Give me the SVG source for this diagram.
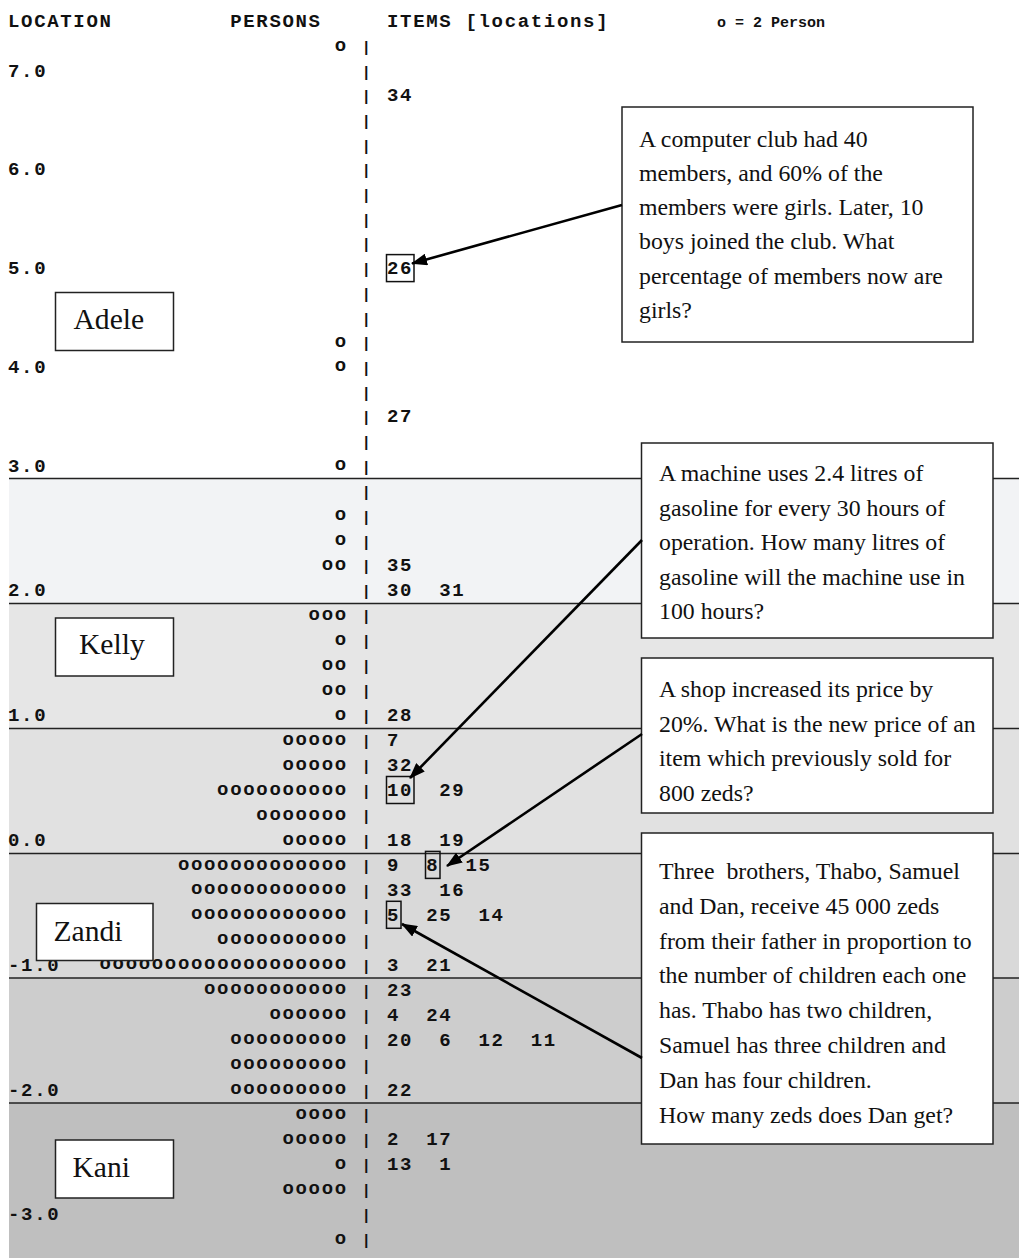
<svg xmlns="http://www.w3.org/2000/svg" width="1019" height="1258" viewBox="0 0 1019 1258">
<style>
.m{font-family:"Liberation Mono","Courier New",monospace;font-weight:bold;font-size:19px;letter-spacing:1.67px;fill:#111}
.hs{font-family:"Liberation Mono","Courier New",monospace;font-weight:bold;font-size:15px;fill:#111}
.o{transform:translate(0px,-1.3px)}
.bar{font-family:"Liberation Mono","Courier New",monospace;font-weight:bold;font-size:15px;fill:#111;text-anchor:middle}
.lbl{font-family:"Liberation Serif","Times New Roman",serif;font-size:29.6px;fill:#111}
.q{font-family:"Liberation Serif","Times New Roman",serif;font-size:23.8px;fill:#111}
.box{fill:#fff;stroke:#222;stroke-width:1.5}
.nb{fill:none;stroke:#111;stroke-width:1.5}
.bl{stroke:#222;stroke-width:1.3}
.arr{stroke:#000;stroke-width:2.6;fill:none;marker-end:url(#ah)}
</style>
<defs>
<marker id="ah" markerUnits="userSpaceOnUse" markerWidth="16" markerHeight="12" refX="15" refY="6" orient="auto">
<path d="M0,0 L16,6 L0,12 z" fill="#000"/>
</marker>
</defs>
<rect x="0" y="0" width="1019" height="1258" fill="#fff"/>
<g id="bands">
<rect x="9" y="478.5" width="1010" height="125" fill="#f2f3f5"/>
<rect x="9" y="603.5" width="1010" height="125" fill="#e6e6e6"/>
<rect x="9" y="728.5" width="1010" height="125" fill="#e1e1e1"/>
<rect x="9" y="853.5" width="1010" height="124.5" fill="#d9d9d9"/>
<rect x="9" y="978" width="1010" height="125" fill="#cdcdcd"/>
<rect x="9" y="1103" width="1010" height="155" fill="#bfbfbf"/>
<line class="bl" x1="9" y1="478.5" x2="1019" y2="478.5"/>
<line class="bl" x1="9" y1="603.5" x2="1019" y2="603.5"/>
<line class="bl" x1="9" y1="728.5" x2="1019" y2="728.5"/>
<line class="bl" x1="9" y1="853.5" x2="1019" y2="853.5"/>
<line class="bl" x1="9" y1="978" x2="1019" y2="978"/>
<line class="bl" x1="9" y1="1103" x2="1019" y2="1103"/>
</g>
<g id="header">
<text class="m" x="8" y="27">LOCATION</text>
<text class="m" x="230.2" y="27">PERSONS</text>
<text class="m" x="387" y="27">ITEMS [locations]</text>
<text class="hs" x="717" y="27">o = 2 Person</text>
</g>
<g id="locations">
<text class="m" x="8" y="76.7">7.0</text>
<text class="m" x="8" y="175.4">6.0</text>
<text class="m" x="8" y="274.1">5.0</text>
<text class="m" x="8" y="372.8">4.0</text>
<text class="m" x="8" y="471.6">3.0</text>
<text class="m" x="8" y="596.4">2.0</text>
<text class="m" x="8" y="721.1">1.0</text>
<text class="m" x="8" y="845.9">0.0</text>
<text class="m" x="8" y="970.7">-1.0</text>
<text class="m" x="8" y="1095.5">-2.0</text>
<text class="m" x="8" y="1220.2">-3.0</text>
</g>
<g id="bars">
<text class="bar" x="366.3" y="52">|</text>
<text class="bar" x="366.3" y="76.7">|</text>
<text class="bar" x="366.3" y="101.4">|</text>
<text class="bar" x="366.3" y="126">|</text>
<text class="bar" x="366.3" y="150.7">|</text>
<text class="bar" x="366.3" y="175.4">|</text>
<text class="bar" x="366.3" y="200.1">|</text>
<text class="bar" x="366.3" y="224.8">|</text>
<text class="bar" x="366.3" y="249.4">|</text>
<text class="bar" x="366.3" y="274.1">|</text>
<text class="bar" x="366.3" y="298.8">|</text>
<text class="bar" x="366.3" y="323.5">|</text>
<text class="bar" x="366.3" y="348.2">|</text>
<text class="bar" x="366.3" y="372.8">|</text>
<text class="bar" x="366.3" y="397.5">|</text>
<text class="bar" x="366.3" y="422.2">|</text>
<text class="bar" x="366.3" y="446.9">|</text>
<text class="bar" x="366.3" y="471.6">|</text>
<text class="bar" x="366.3" y="496.6">|</text>
<text class="bar" x="366.3" y="521.5">|</text>
<text class="bar" x="366.3" y="546.5">|</text>
<text class="bar" x="366.3" y="571.4">|</text>
<text class="bar" x="366.3" y="596.4">|</text>
<text class="bar" x="366.3" y="621.3">|</text>
<text class="bar" x="366.3" y="646.3">|</text>
<text class="bar" x="366.3" y="671.2">|</text>
<text class="bar" x="366.3" y="696.2">|</text>
<text class="bar" x="366.3" y="721.1">|</text>
<text class="bar" x="366.3" y="746.1">|</text>
<text class="bar" x="366.3" y="771.1">|</text>
<text class="bar" x="366.3" y="796">|</text>
<text class="bar" x="366.3" y="821">|</text>
<text class="bar" x="366.3" y="845.9">|</text>
<text class="bar" x="366.3" y="870.9">|</text>
<text class="bar" x="366.3" y="895.8">|</text>
<text class="bar" x="366.3" y="920.8">|</text>
<text class="bar" x="366.3" y="945.7">|</text>
<text class="bar" x="366.3" y="970.7">|</text>
<text class="bar" x="366.3" y="995.6">|</text>
<text class="bar" x="366.3" y="1020.6">|</text>
<text class="bar" x="366.3" y="1045.6">|</text>
<text class="bar" x="366.3" y="1070.5">|</text>
<text class="bar" x="366.3" y="1095.5">|</text>
<text class="bar" x="366.3" y="1120.4">|</text>
<text class="bar" x="366.3" y="1145.4">|</text>
<text class="bar" x="366.3" y="1170.3">|</text>
<text class="bar" x="366.3" y="1195.3">|</text>
<text class="bar" x="366.3" y="1220.2">|</text>
<text class="bar" x="366.3" y="1245.2">|</text>
</g>
<g id="persons">
<text class="m o" x="334.75" y="52">o</text>
<text class="m o" x="334.75" y="348.2">o</text>
<text class="m o" x="334.75" y="372.8">o</text>
<text class="m o" x="334.75" y="471.6">o</text>
<text class="m o" x="334.75" y="521.5">o</text>
<text class="m o" x="334.75" y="546.5">o</text>
<text class="m o" x="321.68" y="571.4">oo</text>
<text class="m o" x="308.61" y="621.3">ooo</text>
<text class="m o" x="334.75" y="646.3">o</text>
<text class="m o" x="321.68" y="671.2">oo</text>
<text class="m o" x="321.68" y="696.2">oo</text>
<text class="m o" x="334.75" y="721.1">o</text>
<text class="m o" x="282.47" y="746.1">ooooo</text>
<text class="m o" x="282.47" y="771.1">ooooo</text>
<text class="m o" x="217.12" y="796">oooooooooo</text>
<text class="m o" x="256.33" y="821">ooooooo</text>
<text class="m o" x="282.47" y="845.9">ooooo</text>
<text class="m o" x="177.91" y="870.9">ooooooooooooo</text>
<text class="m o" x="190.98" y="895.8">oooooooooooo</text>
<text class="m o" x="190.98" y="920.8">oooooooooooo</text>
<text class="m o" x="217.12" y="945.7">oooooooooo</text>
<text class="m o" x="99.49" y="970.7">ooooooooooooooooooo</text>
<text class="m o" x="204.05" y="995.6">ooooooooooo</text>
<text class="m o" x="269.4" y="1020.6">oooooo</text>
<text class="m o" x="230.19" y="1045.6">ooooooooo</text>
<text class="m o" x="230.19" y="1070.5">ooooooooo</text>
<text class="m o" x="230.19" y="1095.5">ooooooooo</text>
<text class="m o" x="295.54" y="1120.4">oooo</text>
<text class="m o" x="282.47" y="1145.4">ooooo</text>
<text class="m o" x="334.75" y="1170.3">o</text>
<text class="m o" x="282.47" y="1195.3">ooooo</text>
<text class="m o" x="334.75" y="1245.2">o</text>
</g>
<g id="items">
<text class="m" x="387" y="101.4">34</text>
<text class="m" x="387" y="274.1">26</text>
<text class="m" x="387" y="422.2">27</text>
<text class="m" x="387" y="571.4">35</text>
<text class="m" x="387" y="596.4">30</text>
<text class="m" x="439.3" y="596.4">31</text>
<text class="m" x="387" y="721.1">28</text>
<text class="m" x="387" y="746.1">7</text>
<text class="m" x="387" y="771.1">32</text>
<text class="m" x="387" y="796">10</text>
<text class="m" x="439.3" y="796">29</text>
<text class="m" x="387" y="845.9">18</text>
<text class="m" x="439.3" y="845.9">19</text>
<text class="m" x="387" y="870.9">9</text>
<text class="m" x="426.2" y="870.9">8</text>
<text class="m" x="465.4" y="870.9">15</text>
<text class="m" x="387" y="895.8">33</text>
<text class="m" x="439.3" y="895.8">16</text>
<text class="m" x="387" y="920.8">5</text>
<text class="m" x="426.2" y="920.8">25</text>
<text class="m" x="478.5" y="920.8">14</text>
<text class="m" x="387" y="970.7">3</text>
<text class="m" x="426.2" y="970.7">21</text>
<text class="m" x="387" y="995.6">23</text>
<text class="m" x="387" y="1020.6">4</text>
<text class="m" x="426.2" y="1020.6">24</text>
<text class="m" x="387" y="1045.6">20</text>
<text class="m" x="439.3" y="1045.6">6</text>
<text class="m" x="478.5" y="1045.6">12</text>
<text class="m" x="530.8" y="1045.6">11</text>
<text class="m" x="387" y="1095.5">22</text>
<text class="m" x="387" y="1145.4">2</text>
<text class="m" x="426.2" y="1145.4">17</text>
<text class="m" x="387" y="1170.3">13</text>
<text class="m" x="439.3" y="1170.3">1</text>
<rect class="nb" x="386.5" y="254.6" width="27.5" height="27"/>
<rect class="nb" x="386.5" y="776.5" width="27.5" height="27"/>
<rect class="nb" x="425.5" y="851.4" width="14.5" height="27"/>
<rect class="nb" x="386.5" y="901.3" width="14.5" height="27"/>
</g>
<g id="adele">
<rect class="box" x="55.5" y="292.5" width="118" height="58"/>
<text class="lbl" x="73.5" y="328.5">Adele</text>
</g>
<g id="kelly">
<rect class="box" x="55.5" y="618" width="118" height="58"/>
<text class="lbl" x="79" y="654">Kelly</text>
</g>
<g id="zandi">
<rect class="box" x="36.5" y="903.5" width="116.5" height="57"/>
<text class="lbl" x="53.5" y="940.5">Zandi</text>
</g>
<g id="kani">
<rect class="box" x="55.5" y="1140" width="118" height="58"/>
<text class="lbl" x="72.5" y="1177">Kani</text>
</g>
<g id="q1">
<rect class="box" x="622" y="107" width="351" height="235"/>
<text class="q" x="639" y="146.5">A computer club had 40</text>
<text class="q" x="639" y="180.8">members, and 60% of the</text>
<text class="q" x="639" y="215.1">members were girls. Later, 10</text>
<text class="q" x="639" y="249.4">boys joined the club. What</text>
<text class="q" x="639" y="283.7">percentage of members now are</text>
<text class="q" x="639" y="318">girls?</text>
</g>
<g id="q2">
<rect class="box" x="641.5" y="443" width="351.5" height="195"/>
<text class="q" x="659" y="481">A machine uses 2.4 litres of</text>
<text class="q" x="659" y="515.5">gasoline for every 30 hours of</text>
<text class="q" x="659" y="550">operation. How many litres of</text>
<text class="q" x="659" y="584.5">gasoline will the machine use in</text>
<text class="q" x="659" y="619">100 hours?</text>
</g>
<g id="q3">
<rect class="box" x="641.5" y="658" width="351.5" height="155"/>
<text class="q" x="659" y="697">A shop increased its price by</text>
<text class="q" x="659" y="731.5">20%. What is the new price of an</text>
<text class="q" x="659" y="766">item which previously sold for</text>
<text class="q" x="659" y="800.5">800 zeds?</text>
</g>
<g id="q4">
<rect class="box" x="641.5" y="833" width="351.5" height="311"/>
<text class="q" x="659" y="879" xml:space="preserve">Three  brothers, Thabo, Samuel</text>
<text class="q" x="659" y="913.8">and Dan, receive 45 000 zeds</text>
<text class="q" x="659" y="948.6">from their father in proportion to</text>
<text class="q" x="659" y="983.4">the number of children each one</text>
<text class="q" x="659" y="1018.2">has. Thabo has two children,</text>
<text class="q" x="659" y="1053">Samuel has three children and</text>
<text class="q" x="659" y="1087.8">Dan has four children.</text>
<text class="q" x="659" y="1122.6">How many zeds does Dan get?</text>
</g>
<g id="connectors">
<path class="arr" d="M622,205 L412,263.5"/>
<path class="arr" d="M642,540 L410,778"/>
<path class="arr" d="M642,734 L447,866"/>
<path class="arr" d="M642,1058 L402,924"/>
</g>
</svg>
